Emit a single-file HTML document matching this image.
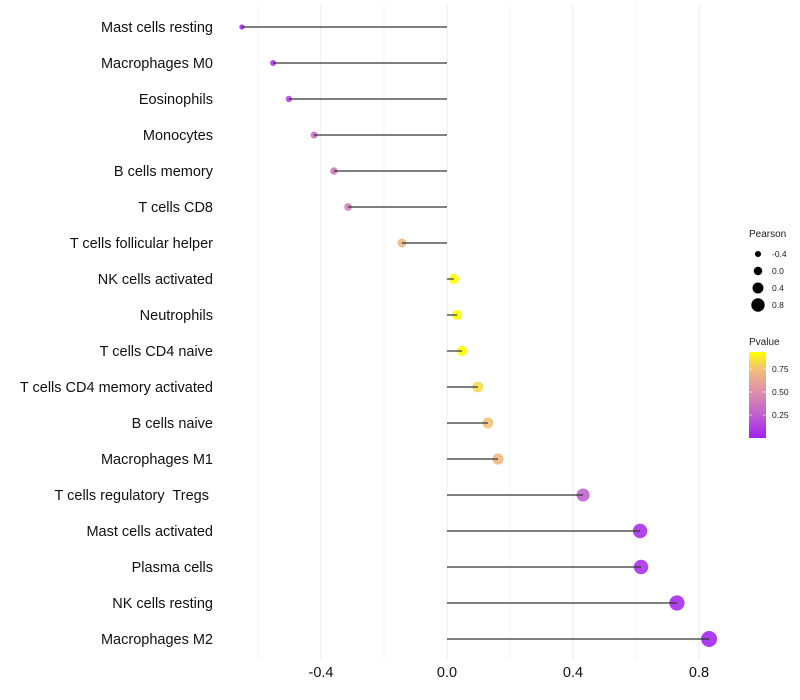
<!DOCTYPE html>
<html><head><meta charset="utf-8">
<style>
body{margin:0;background:#fff;}
svg{display:block;font-family:"Liberation Sans",sans-serif;}
</style></head>
<body>
<svg id="chart" width="800" height="700">
<defs>
<linearGradient id="pgrad" x1="0" y1="1" x2="0" y2="0">
<stop offset="0" stop-color="#A020F0"/>
<stop offset="0.27" stop-color="#C060D0"/>
<stop offset="0.54" stop-color="#DD90A8"/>
<stop offset="0.8" stop-color="#F2C078"/>
<stop offset="1" stop-color="#FFFF00"/>
</linearGradient>
</defs>
</svg>
<script>
const categories=["Mast cells resting","Macrophages M0","Eosinophils","Monocytes","B cells memory","T cells CD8","T cells follicular helper","NK cells activated","Neutrophils","T cells CD4 naive","T cells CD4 memory activated","B cells naive","Macrophages M1","T cells regulatory  Tregs ","Mast cells activated","Plasma cells","NK cells resting","Macrophages M2"];
const pearson=[-0.651,-0.552,-0.502,-0.422,-0.359,-0.314,-0.143,0.022,0.032,0.048,0.098,0.130,0.162,0.432,0.613,0.616,0.730,0.832];
const pvalue=[0.02,0.08,0.15,0.3,0.38,0.42,0.7,0.95,0.95,0.92,0.82,0.75,0.7,0.25,0.05,0.05,0.03,0.01];
const xTicks=[-0.4,0,0.4,0.8];
const xMinor=[-0.6,-0.2,0.2,0.6];
const sizeLegend=[-0.4,0.0,0.4,0.8];
const pvalTicks=[0.25,0.5,0.75];

const NS="http://www.w3.org/2000/svg";
const svg=document.getElementById('chart');
function el(t,a,p){const e=document.createElementNS(NS,t);for(const k in a)e.setAttribute(k,a[k]);(p||svg).appendChild(e);return e;}
const x=v=>447+v*315;
const y=i=>27+i*36;
const r=v=>Math.max(1.5,5+3.6*v);
const stops=[[0,[160,32,240]],[0.27,[192,96,208]],[0.54,[221,144,168]],[0.8,[242,192,120]],[1,[255,255,0]]];
function col(p){const t=Math.min(1,Math.max(0,p/0.93));for(let i=1;i<stops.length;i++){if(t<=stops[i][0]){const a=stops[i-1],b=stops[i],f=(t-a[0])/(b[0]-a[0]);const c=a[1].map((v,k)=>Math.round(v+(b[1][k]-v)*f));return `rgb(${c})`;}}return 'rgb(255,255,0)';}

const grid=el('g',{});


xMinor.forEach(v=>el('line',{x1:x(v),x2:x(v),y1:5,y2:660,stroke:'#f3f3f3','stroke-width':0.7},grid));
xTicks.forEach(v=>el('line',{x1:x(v),x2:x(v),y1:5,y2:660,stroke:'#ebebeb','stroke-width':1},grid));

categories.forEach((c,i)=>{
  const t=el('text',{x:213,y:y(i)+5,'text-anchor':'end','font-size':14.5,fill:'#111'});
  t.setAttribute('xml:space','preserve');
  t.style.whiteSpace='pre';
  t.textContent=c;
  
  
  const pt=el('circle',{cx:x(pearson[i]),cy:y(i),r:r(pearson[i]),fill:col(pvalue[i]),'fill-opacity':0.88});
  
  
  const ln=el('line',{x1:x(0),x2:x(pearson[i]),y1:y(i),y2:y(i),stroke:'#333','stroke-width':1.2});
  
  
});
xTicks.forEach(v=>{
  const t=el('text',{x:x(v),y:677,'text-anchor':'middle','font-size':14.5,fill:'#111'});
  t.textContent=v===0?'0.0':v.toFixed(1);
  
  
});

const lg=el('g',{});


el('text',{x:749,y:237,'font-size':10,fill:'#1a1a1a'},lg).textContent='Pearson';
sizeLegend.forEach((v,i)=>{
  const cy=254+i*17;
  el('circle',{cx:758,cy:cy,r:r(v)*0.85,fill:'#000'},lg);
  el('text',{x:772,y:cy+3,'font-size':8.5,fill:'#1a1a1a'},lg).textContent=v===0?'0.0':v.toFixed(1);
});
const cg=el('g',{});


el('text',{x:749,y:345,'font-size':10,fill:'#1a1a1a'},cg).textContent='Pvalue';
el('rect',{x:749,y:352,width:17,height:86,fill:'url(#pgrad)'},cg);
pvalTicks.forEach(v=>{
  const yy=438-v*92;
  el('line',{x1:749,x2:752,y1:yy,y2:yy,stroke:'#fff','stroke-width':0.6},cg);
  el('line',{x1:763,x2:766,y1:yy,y2:yy,stroke:'#fff','stroke-width':0.6},cg);
  el('text',{x:772,y:yy+3,'font-size':8.5,fill:'#1a1a1a'},cg).textContent=v.toFixed(2);
});
</script>
</body></html>
